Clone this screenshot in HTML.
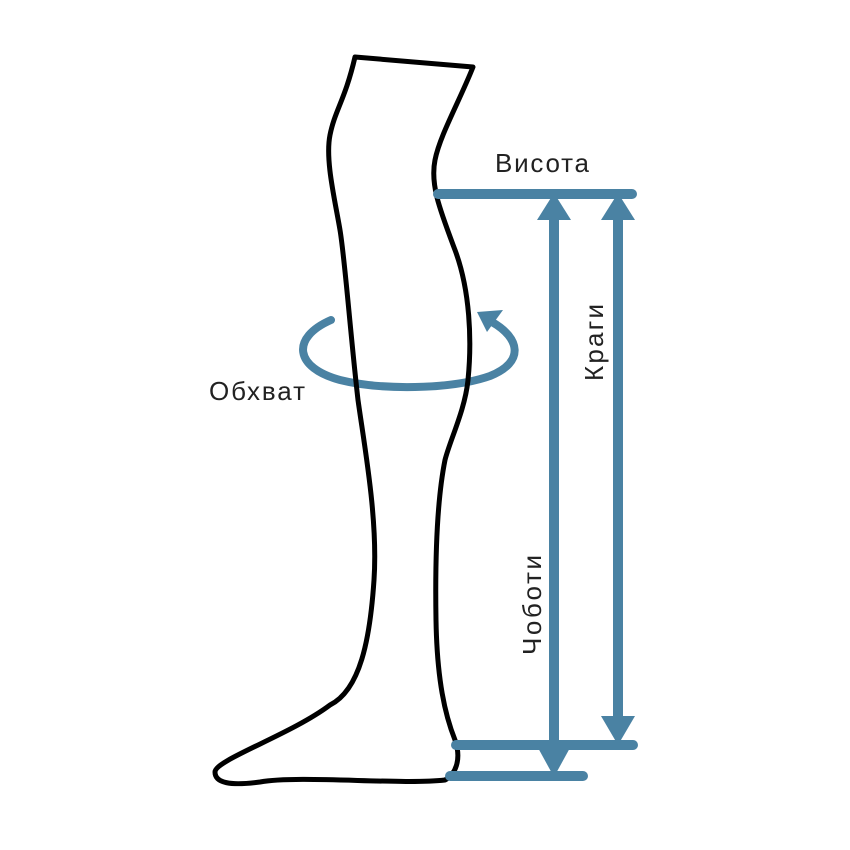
<!DOCTYPE html>
<html><head><meta charset="utf-8"><style>body{margin:0;background:#fff}svg{display:block}</style></head>
<body>
<svg width="850" height="850" viewBox="0 0 850 850" xmlns="http://www.w3.org/2000/svg">
<g fill="none" stroke="#4a82a3" stroke-linecap="round">
<path d="M331,320 C290,338 295,368 340,380 C380,390 450,390 490,376 C525,362 520,338 492,322" stroke-width="8"/>
</g>
<polygon points="477,312 503,310 487,332" fill="#4a82a3"/>
<path d="M355,57 L473,67 C460,100 440,135 435,160 C430,185 440,210 455,250 C470,290 472,340 468,380 C465,410 450,440 445,460 C437,500 435,560 436,620 C437,680 445,715 455,740 C462,760 455,775 445,780 C400,785 300,775 260,782 C230,786 215,783 215,772 C215,760 290,735 330,705 C360,690 370,640 374,580 C378,520 365,450 358,400 C350,330 345,260 340,230 C335,200 325,160 330,135 C335,110 345,100 355,57 Z" fill="none" stroke="#000" stroke-width="5" stroke-linejoin="round"/>
<g stroke="#4a82a3" stroke-width="10" stroke-linecap="round">
<line x1="438" y1="194" x2="632" y2="194"/>
<line x1="456" y1="745" x2="633" y2="745"/>
<line x1="450" y1="776" x2="583" y2="776"/>
<line x1="554" y1="215" x2="554" y2="752" stroke-linecap="butt"/>
<line x1="618" y1="215" x2="618" y2="722" stroke-linecap="butt"/>
</g>
<g fill="#4a82a3">
<polygon points="554,193 537,220 571,220"/>
<polygon points="618,193 601,220 635,220"/>
<polygon points="554,777 537,746 571,746"/>
<polygon points="618,745 601,716 635,716"/>
</g>
<g font-family="Liberation Sans, sans-serif" font-size="26" fill="#222">
<text x="495" y="172" textLength="94">Висота</text>
<text x="209" y="400" textLength="96">Обхват</text>
<text transform="translate(603,381) rotate(-90)" textLength="77">Краги</text>
<text transform="translate(541,655) rotate(-90)" textLength="100">Чоботи</text>
</g>
</svg>
</body></html>
